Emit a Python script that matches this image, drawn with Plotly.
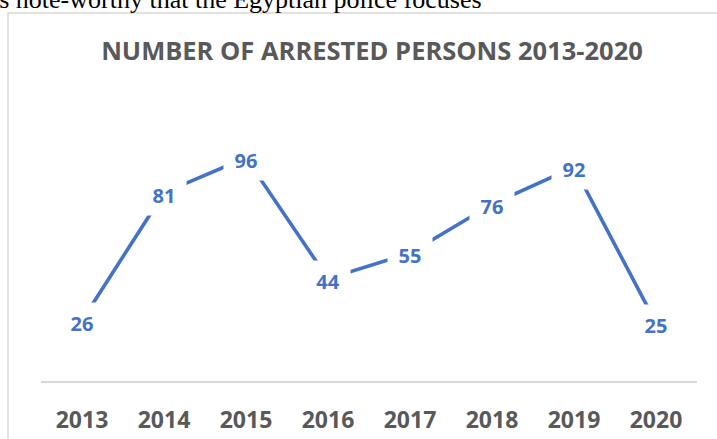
import plotly.graph_objects as go

years = ["2013", "2014", "2015", "2016", "2017", "2018", "2019", "2020"]
arrested = [26, 81, 96, 44, 55, 76, 92, 25]
title_text = "NUMBER OF ARRESTED PERSONS 2013-2020"
doc_text = "is note-worthy that the Egyptian police focuses"

W, H = 717, 439
L, R, T, B = 41, 20, 102, 58
pw, ph = W - L - R, H - T - B

def px_x(p):
    return (p - L) / pw

def px_y(p):
    return (H - B - p) / ph

line_color = "#4472C4"
grey_text = "#595959"
font_main = "Open Sans"

fig = go.Figure()
fig.add_trace(go.Scatter(
    x=years, y=arrested, mode="lines",
    line=dict(color=line_color, width=3.6),
    hoverinfo="skip", showlegend=False,
))

annotations = []
for i, v in enumerate(arrested):
    annotations.append(dict(
        x=i, y=v, xref="x", yref="y", text="<b>%d</b>" % v,
        showarrow=False, bgcolor="white", width=42, height=38,
        font=dict(family=font_main, size=20, color=line_color),
        xanchor="center", yanchor="middle", yshift=-2,
    ))

annotations.append(dict(
    x=px_x(-10), y=px_y(16), xref="paper", yref="paper",
    text=doc_text, showarrow=False, xanchor="left", yanchor="bottom",
    font=dict(family="Liberation Serif", size=26, color="black"),
))

fig.update_layout(
    width=W, height=H,
    margin=dict(l=L, r=R, t=T, b=B, autoexpand=False),
    paper_bgcolor="white", plot_bgcolor="white",
    title=dict(
        text="<b>%s</b>" % title_text,
        x=(372 - L) / pw, xref="paper", xanchor="center",
        y=1 - 51 / H, yref="container", yanchor="middle",
        font=dict(family=font_main, size=25.5, color=grey_text),
    ),
    xaxis=dict(
        type="category", range=[-0.5, len(years) - 0.5],
        showline=True, linecolor="#D9D9D9", linewidth=1.5,
        showgrid=False, zeroline=False, ticks="",
        ticklabelstandoff=18, automargin=False,
        tickfont=dict(family=font_main, size=23, color=grey_text),
        tickprefix="<b>", ticksuffix="</b>",
        fixedrange=True,
    ),
    yaxis=dict(
        range=[0, 120], visible=False, showgrid=False, zeroline=False,
        fixedrange=True, automargin=False,
    ),
    shapes=[dict(
        type="rect", xref="paper", yref="paper",
        x0=px_x(8), x1=px_x(760), y0=px_y(480), y1=px_y(13),
        line=dict(color="#D9D9D9", width=1.5), fillcolor="rgba(0,0,0,0)",
        layer="below",
    )],
    annotations=annotations,
)

fig.write_html("out.html")
